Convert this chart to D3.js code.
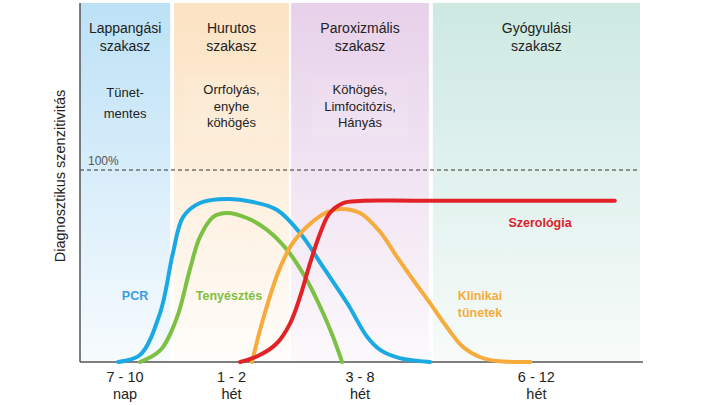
<!DOCTYPE html>
<html><head><meta charset="utf-8">
<script src="https://cdn.jsdelivr.net/npm/d3@7"></script>
<style>body{margin:0;background:#fff}svg{display:block}</style>
</head><body><svg id="c" width="720" height="405"></svg>
<script>
// ---- data ----
const phases = ["Lappangási szakasz","Hurutos szakasz","Paroxizmális szakasz","Gyógyulási szakasz"];
const phaseStart = [0, 16.8, 37.7, 63.0];
const phaseEnd   = [16.1, 37.3, 62.3, 100];
const phaseSymptoms = [["Tünet-","mentes"],["Orrfolyás,","enyhe","köhögés"],["Köhögés,","Limfocitózis,","Hányás"],[]];
const tickLabels = [["7 - 10","nap"],["1 - 2","hét"],["3 - 8","hét"],["6 - 12","hét"]];
const pcrX = [6.8,10.7,14.3,16.6,18.4,21.4,26.3,30.9,35.2,39.3,43.4,47.7,51.3,53.6,57.1,62.5];
const pcrY = [0,3.6,25.5,56.8,75.5,82.8,84.9,83.3,79.2,67.2,49.5,30.7,13,6.3,2,0];
const cultX = [10.7,14.3,17.3,19.6,21.4,23.75,26.25,29.8,33.4,37,40.5,43.4,45.2,46.8];
const cultY = [0,6,23,48,65,75.5,77.6,75,68.8,58.3,42.7,25.5,13,0];
const clinX = [30.7,32.1,33.9,35.7,38,41.1,44.1,46.4,50,53.6,56.6,59.5,62.5,65.5,68.4,71.4,74.5,80.4];
const clinY = [0,16,34,49,62,72,78,79.7,77.6,67.7,54.7,42.7,30.7,18.2,7.8,2.6,0.5,0];
const seroX = [28.6,32.1,35.2,37.5,39.3,41.1,42.9,44.6,47,50,60,95.5];
const seroY = [0,3.6,9.9,20,34,51.6,67.2,77.6,82.8,83.9,84,84];
const seriesNames = ["PCR","Tenyésztés","Klinikai tünetek","Szerológia"];

const svg = d3.select("#c");
const x = d3.scaleLinear().domain([0,100]).range([80,640]);
const y = d3.scaleLinear().domain([0,100]).range([362,170]);
const yTop = 3;

const bandColors = ["#bce1f6","#fbe2c2","#e7d1ea","#cde9e2"];
const bandBottoms = ["#f7fbfe","#fffdfa","#fcf9fc","#f7fbfa"];
const defs = svg.append("defs");
bandColors.forEach((c,i)=>{
  const g = defs.append("linearGradient").attr("id","g"+i).attr("x1",0).attr("x2",0).attr("y1",0).attr("y2",1);
  g.append("stop").attr("offset","0%").attr("stop-color",c);
  g.append("stop").attr("offset","100%").attr("stop-color",bandBottoms[i]);
});

// bands
phases.forEach((p,i)=>{
  svg.append("rect").attr("x",x(phaseStart[i])).attr("y",yTop)
    .attr("width",x(phaseEnd[i])-x(phaseStart[i])).attr("height",y(0)-yTop)
    .attr("fill",`url(#g${i})`);
});
// subtle inner boxes
[1,2].forEach(i=>{
  const cx = (x(phaseStart[i])+x(phaseEnd[i]))/2;
  svg.append("rect").attr("x",cx-48).attr("y",78).attr("width",96).attr("height",59)
    .attr("fill","#ffffff").attr("opacity",0.1);
});

const font = "'Liberation Sans', Arial, sans-serif";
// headers
phases.forEach((p,i)=>{
  const cx = (x(phaseStart[i])+x(phaseEnd[i]))/2;
  const words = p.split(" ");
  words.forEach((w,j)=>{
    svg.append("text").attr("x",cx).attr("y",33+j*18).attr("text-anchor","middle")
      .attr("font-family",font).attr("font-size",14).attr("fill","#222").text(w);
  });
  phaseSymptoms[i].forEach((w,j)=>{
    const n = phaseSymptoms[i].length;
    const y0 = n===2 ? 97 : 94;
    const dy = n===2 ? 21 : 16.5;
    svg.append("text").attr("x",cx).attr("y",y0+j*dy).attr("text-anchor","middle")
      .attr("font-family",font).attr("font-size",13).attr("fill","#222").text(w);
  });
  tickLabels[i].forEach((w,j)=>{
    svg.append("text").attr("x",cx).attr("y",382+j*17).attr("text-anchor","middle")
      .attr("font-family",font).attr("font-size",14.5).attr("fill","#222").text(w);
  });
});

// 100% line
svg.append("line").attr("x1",x(0)).attr("x2",x(100)).attr("y1",y(100)).attr("y2",y(100))
  .attr("stroke","#333").attr("stroke-width",1.2).attr("stroke-dasharray","4,3");
svg.append("text").attr("x",x(0)+8).attr("y",y(100)-5).attr("font-family",font).attr("font-size",12)
  .attr("fill","#555").text("100%");

// axes
svg.append("line").attr("x1",80).attr("x2",80).attr("y1",yTop).attr("y2",y(0)).attr("stroke","#555").attr("stroke-width",1.5);
svg.append("line").attr("x1",80).attr("x2",643).attr("y1",y(0)).attr("y2",y(0)).attr("stroke","#555").attr("stroke-width",1.5);
svg.append("text").attr("transform",`translate(65,176) rotate(-90)`).attr("text-anchor","middle")
  .attr("font-family",font).attr("font-size",14.5).attr("fill","#222").text("Diagnosztikus szenzitivitás");

// curves
const line = d3.line().x(d=>x(d[0])).y(d=>y(d[1])).curve(d3.curveCatmullRom.alpha(0.5));
const series = [
  {xs:pcrX, ys:pcrY, color:"#1ba9e3"},
  {xs:cultX, ys:cultY, color:"#7cc143"},
  {xs:clinX, ys:clinY, color:"#f6ab3c"},
  {xs:seroX, ys:seroY, color:"#e32228"}
];
series.forEach(s=>{
  svg.append("path").datum(s.xs.map((v,i)=>[v,s.ys[i]])).attr("d",line)
    .attr("fill","none").attr("stroke",s.color).attr("stroke-width",4).attr("stroke-linecap","round");
});

// labels
const lab = [
  {t:["PCR"], cx:135, cy:300, c:"#3a9de0"},
  {t:["Tenyésztés"], cx:229, cy:300, c:"#82bf3f"},
  {t:["Klinikai","tünetek"], cx:480, cy:300, c:"#f3ad3a"},
  {t:["Szerológia"], cx:540, cy:227, c:"#d9232a"}
];
lab.forEach((l,i)=>{
  l.t.forEach((w,j)=>{
    svg.append("text").attr("x",l.cx).attr("y",l.cy+j*17).attr("text-anchor","middle")
      .attr("font-family",font).attr("font-weight","bold").attr("font-size",12.5).attr("fill",l.c).text(w);
  });
});
</script></body></html>
